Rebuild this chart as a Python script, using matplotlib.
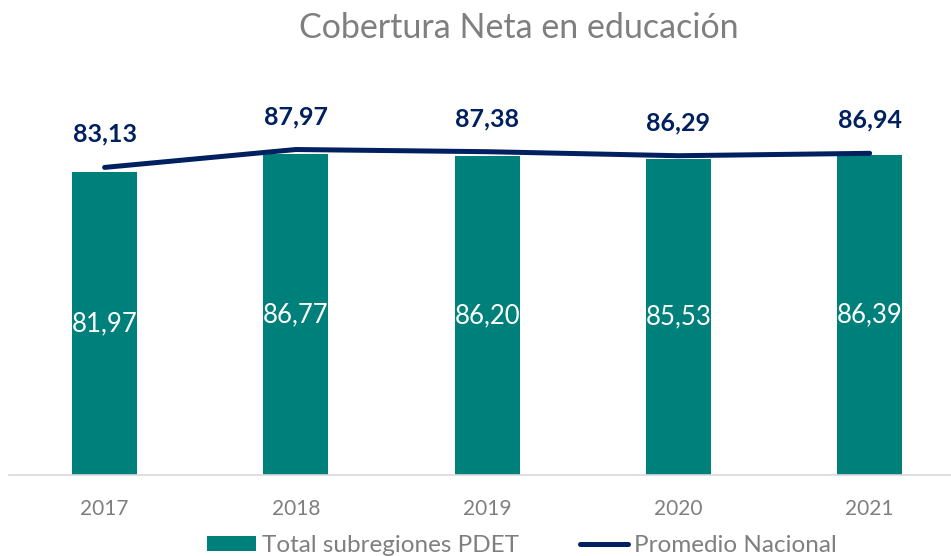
import matplotlib
matplotlib.use("Agg")
import matplotlib.pyplot as plt
from matplotlib.patches import Patch
from matplotlib.lines import Line2D

years = ["2017", "2018", "2019", "2020", "2021"]
pdet = [81.97, 86.77, 86.20, 85.53, 86.39]
nacional = [83.13, 87.97, 87.38, 86.29, 86.94]
title = "Cobertura Neta en educación"
legend_labels = ["Total subregiones PDET", "Promedio Nacional"]

TEAL = "#00807A"
NAVY = "#002060"
GREY = "#7F7F7F"

plt.rcParams['font.family'] = ['Lato', 'DejaVu Sans']

W, H = 951, 556
fig = plt.figure(figsize=(W / 100, H / 100), dpi=100)
left_px, right_px, bottom_px, top_px = 9, 951, 475, 105
ax = fig.add_axes([left_px / W, 1 - bottom_px / H, (right_px - left_px) / W, (bottom_px - top_px) / H])

x = list(range(len(years)))
bars = ax.bar(x, pdet, width=0.34, color=TEAL, zorder=2)
ax.plot(x, nacional, color=NAVY, lw=3.6, solid_capstyle='round', zorder=3)

def fmt(v):
    return f"{v:.2f}".replace(".", ",")

ax.bar_label(bars, labels=[fmt(v) for v in pdet], label_type='center',
             color='white', fontsize=18.5, zorder=4)
for xi, v in zip(x, nacional):
    ax.annotate(fmt(v), (xi, v), xytext=(0, 23.8), textcoords='offset points',
                ha='center', va='center', color=NAVY, fontsize=18, fontweight='bold')

slot = 191.25
ax.set_xlim(-0.5, -0.5 + (right_px - left_px) / slot)
ax.set_ylim(0, 100)
ax.set_xticks(x)
ax.set_xticklabels(years, color=GREY, fontsize=15)
ax.tick_params(axis='x', length=0, pad=17)
ax.set_yticks([])
for s in ['top', 'right', 'left']:
    ax.spines[s].set_visible(False)
ax.spines['bottom'].set_color('#D9D9D9')
ax.spines['bottom'].set_linewidth(1.2)

fig.text(519 / W, 1 - 28 / H, title, ha='center', va='center', color=GREY, fontsize=24.5)

handles = [Patch(facecolor=TEAL, edgecolor='none'),
           Line2D([0], [0], color=NAVY, lw=3.6, solid_capstyle='round')]
leg = fig.legend(handles, legend_labels, loc='center', bbox_to_anchor=(522 / W, 1 - 546 / H),
                 ncol=2, frameon=False, fontsize=17.5, handlelength=2.0, handleheight=0.57,
                 handletextpad=0.25, columnspacing=2.5, labelcolor=GREY)

fig.savefig("out.png", dpi=100)
